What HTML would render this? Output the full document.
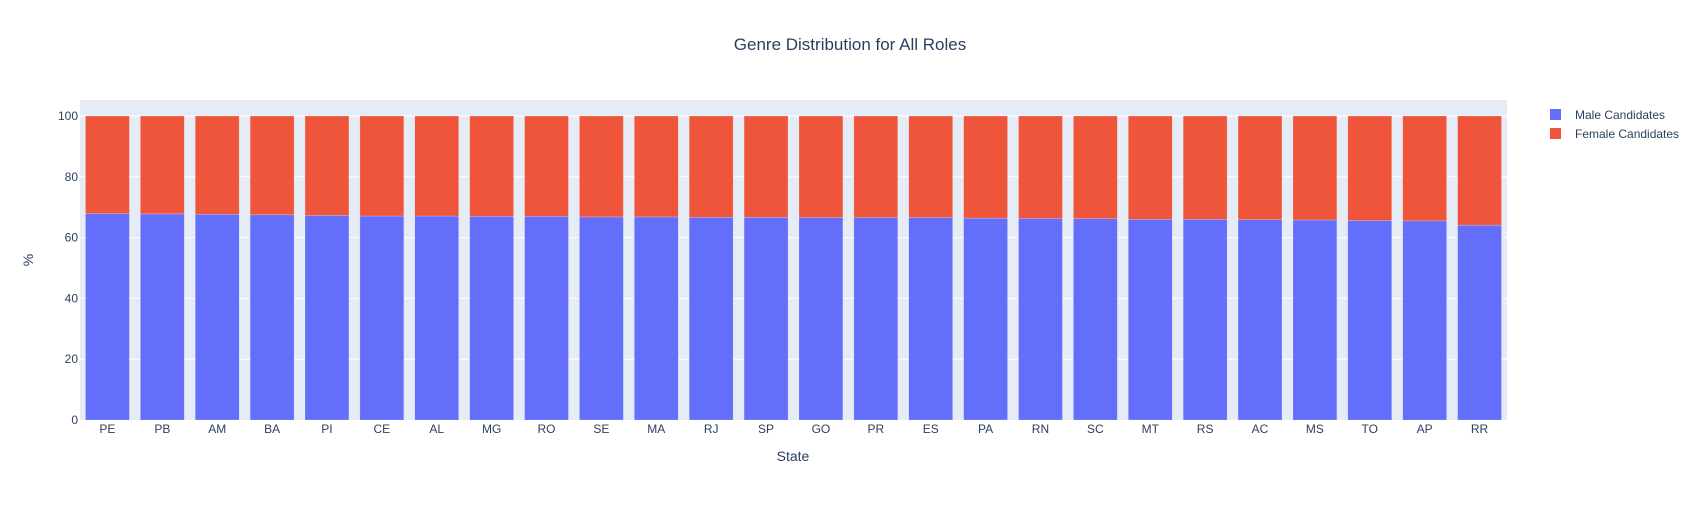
<!DOCTYPE html>
<html><head><meta charset="utf-8"><style>
body{margin:0;background:#fff;font-family:"Liberation Sans",Arial,sans-serif;}
svg text{font-family:"Liberation Sans",Arial,sans-serif;fill:#2a3f5f;}
</style></head><body>
<svg id="chart" width="1700" height="500">
<rect x="80" y="100" width="1427" height="320" fill="#e5ecf6"/>
<g id="grid"></g><g id="bars"></g><g id="ticks"></g>
<text x="850" y="50" text-anchor="middle" font-size="17">Genre Distribution for All Roles</text>
<text x="793" y="461" text-anchor="middle" font-size="14">State</text>
<text x="33" y="260" text-anchor="middle" font-size="14" transform="rotate(-90 33 260)">%</text>
<g><rect x="1550" y="109" width="11" height="11" fill="#636efa"/><text x="1575" y="119" font-size="12">Male Candidates</text></g>
<g><rect x="1550" y="128" width="11" height="11" fill="#ef553b"/><text x="1575" y="138" font-size="12">Female Candidates</text></g>
</svg>
<script>
const categories=["PE","PB","AM","BA","PI","CE","AL","MG","RO","SE","MA","RJ","SP","GO","PR","ES","PA","RN","SC","MT","RS","AC","MS","TO","AP","RR"];
const maleValues=[67.9,67.8,67.7,67.5,67.3,67.1,67.1,67.0,67.0,66.8,66.8,66.7,66.7,66.6,66.6,66.6,66.4,66.3,66.2,66.0,66.0,65.9,65.8,65.6,65.5,64.1];
const femaleValues=[32.1,32.2,32.3,32.5,32.7,32.9,32.9,33.0,33.0,33.2,33.2,33.3,33.3,33.4,33.4,33.4,33.6,33.7,33.8,34.0,34.0,34.1,34.2,34.4,34.5,35.9];
const yTicks=[0,20,40,60,80,100];
const ns="http://www.w3.org/2000/svg";
const X0=80,W=1427,Y0=420,H=320,YMAX=105.26;
const y=v=>Y0-v/YMAX*H;
const band=W/categories.length;
const x=i=>X0+band*i;
function mk(t,a,p){const e=document.createElementNS(ns,t);for(const k in a)e.setAttribute(k,a[k]);p.appendChild(e);return e;}
const grid=document.getElementById('grid'),bars=document.getElementById('bars'),ticks=document.getElementById('ticks');
yTicks.forEach(v=>{
 if(v>0){const l=mk('line',{x1:X0,x2:X0+W,y1:y(v),y2:y(v),stroke:'#fff','stroke-width':1},grid);
 
 }
 const t=mk('text',{x:X0-2,y:y(v)+4,'text-anchor':'end','font-size':12},ticks);t.textContent=v;
 
 
});
categories.forEach((c,i)=>{
 const bw=band*0.8,bx=x(i)+band*0.1;
 const m=mk('rect',{x:bx,y:y(maleValues[i]),width:bw,height:y(0)-y(maleValues[i]),fill:'#636efa',stroke:'rgba(255,255,255,0.4)','stroke-width':0.5},bars);
 
 
 const f=mk('rect',{x:bx,y:y(maleValues[i]+femaleValues[i]),width:bw,height:y(maleValues[i])-y(maleValues[i]+femaleValues[i]),fill:'#ef553b',stroke:'rgba(255,255,255,0.4)','stroke-width':0.5},bars);
 
 
 const t=mk('text',{x:x(i)+band/2,y:Y0+13,'text-anchor':'middle','font-size':12},ticks);t.textContent=c;
 
 
});
</script>
</body></html>
